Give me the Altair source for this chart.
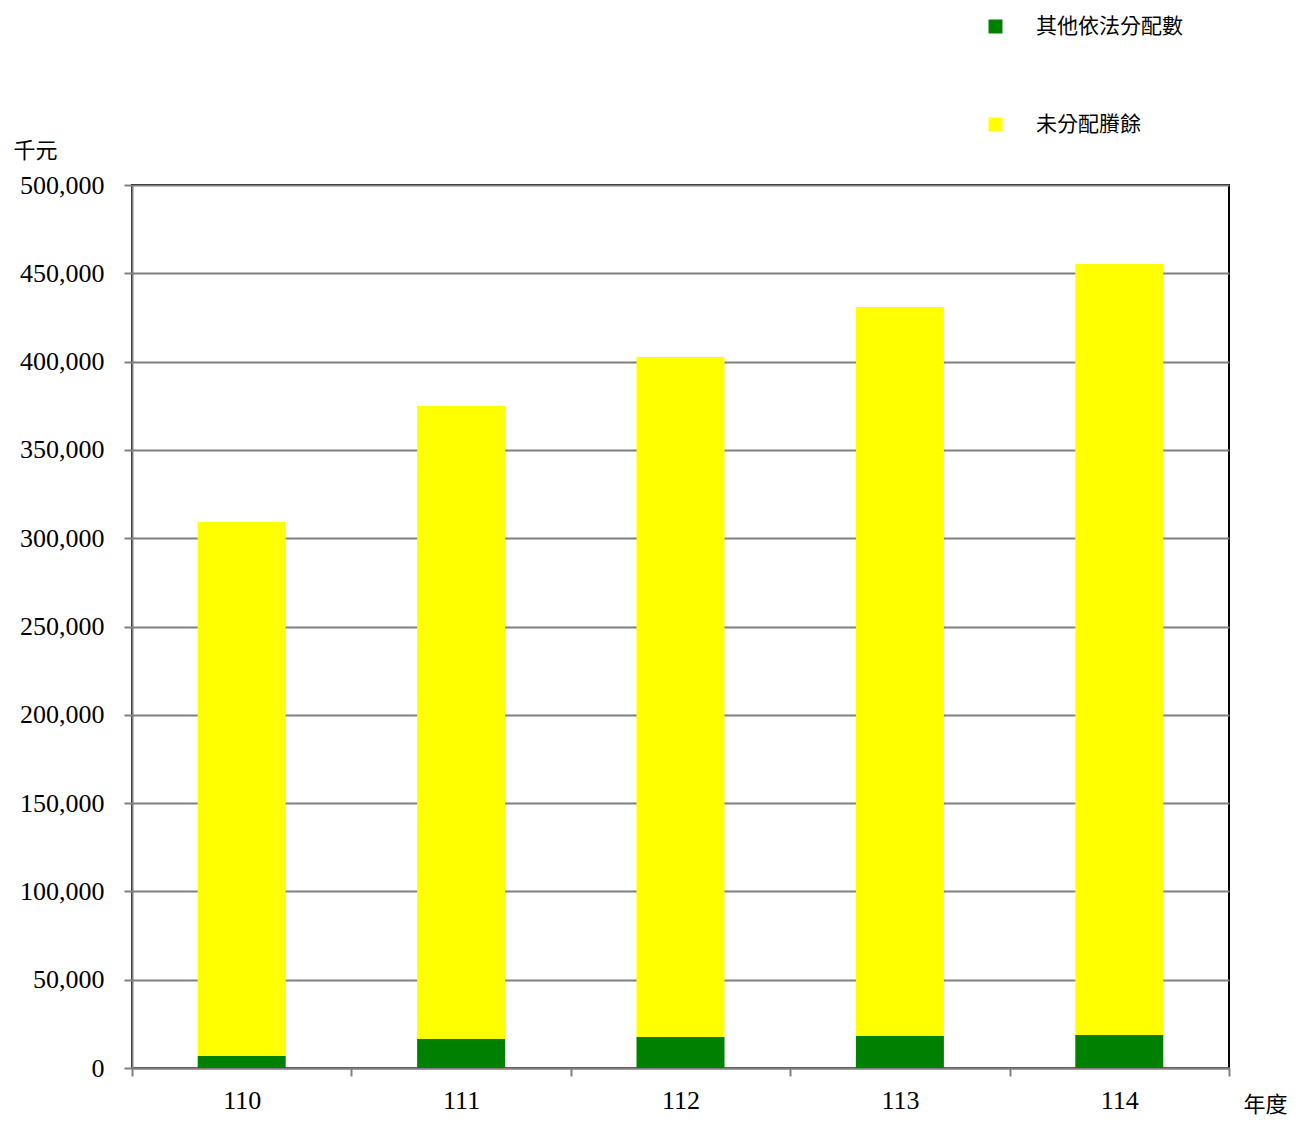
import altair as alt
import pandas as pd

years = ["110", "111", "112", "113", "114"]
other_alloc = [6800, 16400, 17500, 18100, 18700]          # 其他依法分配數
undistributed = [302400, 358400, 385100, 412800, 436500]  # 未分配賸餘

series_names = ["其他依法分配數", "未分配賸餘"]
series_colors = ["#008000", "#FFFF00"]
y_ticks = list(range(0, 500001, 50000))

rows = []
for i, y in enumerate(years):
    rows.append({"year": y, "series": series_names[0], "value": other_alloc[i], "ord": 0})
    rows.append({"year": y, "series": series_names[1], "value": undistributed[i], "ord": 1})
df = pd.DataFrame(rows)

serif = "Liberation Serif"
cjk = "Noto Sans CJK TC"

chart = alt.Chart(df).mark_bar(size=88).encode(
    x=alt.X("year:N", sort=years,
            scale=alt.Scale(paddingInner=0, paddingOuter=0),
            axis=alt.Axis(title="年度", labelAngle=0, tickBand="extent",
                          tickSize=8, labelPadding=11, labelFontSize=26, labelFont=serif,
                          labelColor="#000000",
                          titleFont=cjk, titleFontSize=22, titleFontWeight="normal",
                          titleAngle=0, titleX=1133, titleY=36, titleAlign="center",
                          titleBaseline="middle", titleColor="#000000", grid=False)),
    y=alt.Y("value:Q", stack="zero",
            scale=alt.Scale(domain=[0, 500000], nice=False),
            axis=alt.Axis(title="千元", values=y_ticks,
                          labelExpr="format(datum.value, ',.0f')", tickSize=8,
                          labelPadding=20, labelFontSize=26, labelFont=serif,
                          labelColor="#000000",
                          titleFont=cjk, titleFontSize=22, titleFontWeight="normal",
                          titleAngle=0, titleX=-97, titleY=-35, titleAlign="center",
                          titleBaseline="middle", titleColor="#000000",
                          grid=True, gridColor="#808080", gridWidth=2)),
    color=alt.Color("series:N",
                    scale=alt.Scale(domain=series_names, range=series_colors),
                    legend=alt.Legend(title=None, orient="none", legendX=853, legendY=-169,
                                      symbolType="square", symbolSize=196,
                                      symbolStrokeWidth=0, labelOffset=30,
                                      rowPadding=76, labelFont=cjk, labelFontSize=21,
                                      labelColor="#000000", labelLimit=0)),
    order=alt.Order("ord:Q", sort="ascending"),
).properties(
    width=1097, height=883,
    autosize=alt.AutoSizeParams(type="none"),
    padding={"left": 124, "top": 177, "right": 61, "bottom": 50},
).configure_view(
    stroke="#000000", strokeWidth=2
).configure_axis(
    domainColor="#808080", domainWidth=2, tickColor="#808080", tickWidth=2
)

chart.save("out.html", embed_options={"renderer": "svg", "actions": False})
